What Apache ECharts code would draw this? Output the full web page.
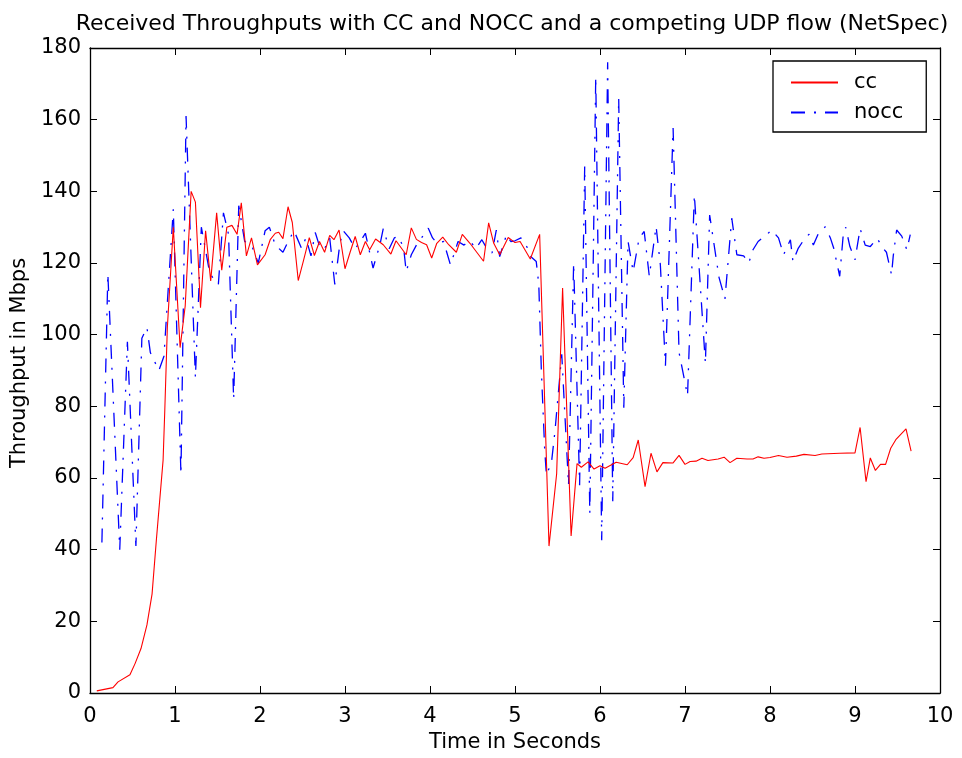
<!DOCTYPE html>
<html>
<head>
<meta charset="utf-8">
<script src="https://cdn.jsdelivr.net/npm/echarts@6/dist/echarts.min.js"></script>
<style>html,body{margin:0;padding:0;background:#fff}#c{width:962px;height:758px}</style>
</head>
<body>
<div id="c"></div>
<script>
const titleText = 'Received Throughputs with CC and NOCC and a competing UDP flow (NetSpec)';
const xName = 'Time in Seconds';
const yName = 'Throughput in Mbps';
const seriesNames = ['cc', 'nocc'];

const ccTime = [0.08,0.27,0.33,0.47,0.53,0.60,0.67,0.73,0.78,0.86,0.88,0.91,0.98,1.06,1.12,1.19,1.24,1.30,1.36,1.42,1.49,1.55,1.61,1.67,1.73,1.78,1.84,1.90,1.97,2.06,2.12,2.18,2.22,2.27,2.33,2.38,2.45,2.51,2.58,2.64,2.70,2.76,2.82,2.87,2.93,3.00,3.06,3.12,3.18,3.24,3.29,3.36,3.45,3.54,3.60,3.72,3.78,3.84,3.90,3.96,4.02,4.08,4.15,4.22,4.31,4.38,4.47,4.63,4.69,4.75,4.82,4.92,5.00,5.06,5.18,5.29,5.40,5.49,5.56,5.66,5.73,5.78,5.86,5.93,6.00,6.06,6.19,6.32,6.39,6.45,6.53,6.60,6.67,6.74,6.86,6.93,7.00,7.06,7.13,7.20,7.27,7.39,7.46,7.53,7.61,7.73,7.80,7.86,7.93,8.00,8.10,8.20,8.31,8.40,8.53,8.61,8.82,9.00,9.06,9.13,9.18,9.24,9.30,9.36,9.42,9.48,9.60,9.66];
const ccVals = [0.6,1.5,3.1,5.1,8.2,12.4,19,27.6,42.5,65,79,102,130,96.4,108,140,137,107.5,129,115,134,118,130,130.5,128,136.8,122,127,119.5,122.3,126.5,128.3,128.6,126.8,135.7,131.3,115.1,120.5,127.1,122.1,126,123,127.7,126.5,129.2,118.4,123,127.4,122.3,126,123.7,126.7,125.1,122.5,126.2,122.3,129.8,126.6,125.7,125.1,121.4,125.5,127.2,125.1,123,128,125.5,120.5,131.2,125.5,122.3,127.1,125.7,126,121.1,128,41,61.2,113,43.8,64,63,64.5,62.5,63.4,62.7,64.4,63.7,65.7,70.6,57.6,66.9,61.7,64.3,64.2,66.3,63.8,64.6,64.7,65.5,64.9,65.3,65.8,64.3,65.5,65.3,65.3,65.9,65.5,65.7,66.3,65.8,66.1,66.6,66.3,66.7,66.9,67,74.1,59,65.6,62.1,63.8,63.8,68.3,70.7,73.7,67.5];

const noccTime = [0.14,0.21,0.35,0.44,0.54,0.61,0.67,0.71,0.81,0.87,0.98,1.07,1.13,1.24,1.31,1.41,1.51,1.57,1.63,1.69,1.75,1.82,1.90,1.98,2.06,2.11,2.18,2.27,2.33,2.40,2.49,2.54,2.60,2.65,2.71,2.76,2.82,2.88,2.94,2.98,3.05,3.12,3.18,3.24,3.33,3.41,3.45,3.52,3.58,3.63,3.69,3.72,3.78,3.84,3.90,3.98,4.03,4.08,4.16,4.24,4.29,4.33,4.40,4.47,4.54,4.61,4.67,4.73,4.78,4.82,4.90,4.95,5.00,5.07,5.14,5.18,5.25,5.28,5.31,5.35,5.37,5.43,5.47,5.55,5.63,5.69,5.76,5.82,5.88,5.95,6.02,6.09,6.15,6.22,6.28,6.33,6.39,6.46,6.52,6.58,6.66,6.71,6.77,6.86,6.93,7.03,7.11,7.24,7.29,7.40,7.47,7.55,7.61,7.69,7.75,7.80,7.86,7.96,8.02,8.10,8.16,8.24,8.27,8.33,8.41,8.46,8.51,8.57,8.65,8.71,8.75,8.82,8.86,8.89,8.94,9.00,9.06,9.12,9.18,9.26,9.33,9.37,9.43,9.45,9.49,9.55,9.61,9.65];
const noccVals = [42,117,40,98,41,99,102,95,90,94,135,61,161,88,130,117,114,134,128,82,136,126,125,120,129,130,125,123,126,129,124,127,122,128.5,124,124,127,114,125.5,129,127,124,126,128.3,118.6,125,129.6,124,127,127.4,124.2,117.6,122.3,125,127,129.7,127,125.6,126,119.5,123,126,125,126.2,124,126.5,124,122.8,129.2,121.8,127.9,126,126.2,127,124.5,121.9,120.4,114,90,67.6,60.8,64.5,73,94.5,58,120,58,147,50,172,42.6,176,53.5,166,79.6,126,117.6,126.9,128.8,116.3,130.2,119.5,91.3,157.7,95,83,139,92,133.4,116,110,132.5,122.3,122,120,123.7,126,127.9,129.2,127,122.3,126.5,120.4,124,126.9,128,125,128.3,130.1,127,124.1,116.3,127.4,130,124.6,120.9,129.6,125,124.6,126.9,124.1,123,116.7,122,129.2,127.5,123.7,127.9];

const font = "'DejaVu Sans', 'Liberation Sans', Arial, sans-serif";
const pair = (t, v) => t.map((x, i) => [x, v[i]]);

const chart = echarts.init(document.getElementById('c'), null, {renderer: 'canvas'});
const tickStyle = {show: true, inside: true, length: 7, lineStyle: {color: '#000', width: 1}};
const lineAx = {show: true, onZero: false, lineStyle: {color: '#000', width: 1.3}};
chart.setOption({
  animation: false,
  backgroundColor: '#fff',
  title: {
    text: titleText, left: 507, top: 8, textAlign: 'center',
    textStyle: {fontFamily: font, fontSize: 22, fontWeight: 'normal', color: '#000'}
  },
  legend: {
    data: seriesNames, orient: 'vertical', left: 773, top: 61,
    padding: [11, 23, 9, 17], itemWidth: 47, itemHeight: 20, itemGap: 9,
    backgroundColor: '#fff', borderColor: '#000', borderWidth: 1.3, borderRadius: 0,
    itemStyle: {opacity: 0},
    textStyle: {fontFamily: font, fontSize: 21, color: '#000', padding: [0, 0, 0, 11], lineHeight: 20}
  },
  grid: {left: 90, right: 22, top: 48, bottom: 63, containLabel: false},
  xAxis: [
    {type: 'value', min: 0, max: 10, interval: 1, position: 'bottom',
     name: xName, nameLocation: 'middle', nameGap: 39,
     nameTextStyle: {fontFamily: font, fontSize: 21, color: '#000'},
     axisLine: lineAx, axisTick: tickStyle, splitLine: {show: false},
     axisLabel: {fontFamily: font, fontSize: 21, color: '#000', margin: 13}},
    {type: 'value', min: 0, max: 10, interval: 1, position: 'top',
     axisLine: lineAx, axisTick: tickStyle, splitLine: {show: false}, axisLabel: {show: false}}
  ],
  yAxis: [
    {type: 'value', min: 0, max: 180, interval: 20, position: 'left',
     name: yName, nameLocation: 'middle', nameGap: 53,
     nameTextStyle: {fontFamily: font, fontSize: 21, color: '#000', padding: [0, 0, 0, 15]},
     axisLine: lineAx, axisTick: tickStyle, splitLine: {show: false},
     axisLabel: {fontFamily: font, fontSize: 21, color: '#000', margin: 9}},
    {type: 'value', min: 0, max: 180, interval: 20, position: 'right',
     axisLine: lineAx, axisTick: tickStyle, splitLine: {show: false}, axisLabel: {show: false}}
  ],
  series: [
    {name: seriesNames[0], type: 'line', xAxisIndex: 0, yAxisIndex: 0, data: pair(ccTime, ccVals),
     showSymbol: false, symbol: 'none', lineStyle: {color: '#ff0000', width: 1.1}, itemStyle: {color: '#ff0000'}, z: 3},
    {name: seriesNames[1], type: 'line', xAxisIndex: 0, yAxisIndex: 0, data: pair(noccTime, noccVals),
     showSymbol: false, symbol: 'none', lineStyle: {color: '#0000ff', width: 1.3, type: [14, 9, 2, 9]}, itemStyle: {color: '#0000ff'}, z: 2}
  ]
});
</script>
</body>
</html>
